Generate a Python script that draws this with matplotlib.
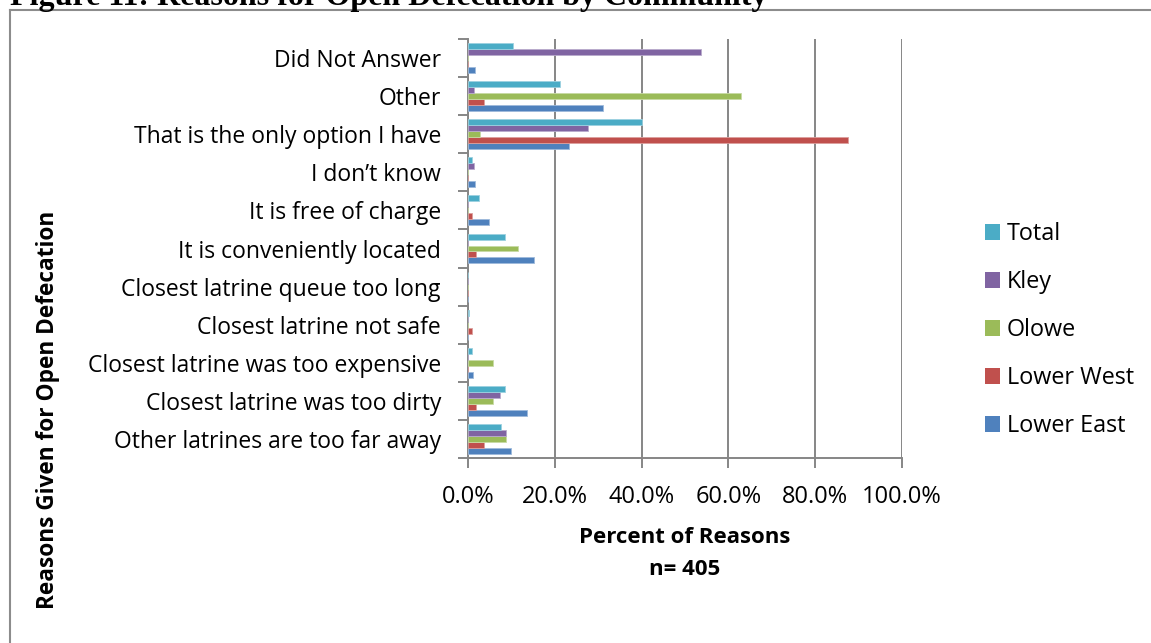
import matplotlib
matplotlib.use("Agg")
import matplotlib.pyplot as plt
import numpy as np
from matplotlib.lines import Line2D
from matplotlib.patches import Patch
from matplotlib.colors import to_rgb

# Reasons, listed bottom to top as they appear on the axis
reasons = [
    "Other latrines are too far away",
    "Closest latrine was too dirty",
    "Closest latrine was too expensive",
    "Closest latrine not safe",
    "Closest latrine queue too long",
    "It is conveniently located",
    "It is free of charge",
    "I don\u2019t know",
    "That is the only option I have",
    "Other",
    "Did Not Answer",
]

# Percent of reasons given, per community
lower_east = [9.8, 13.5, 1.1, 0.0, 0.0, 15.1, 4.8, 1.6, 23.2, 31.2, 1.6]
lower_west = [3.7, 1.8, 0.0, 0.9, 0.0, 1.8, 0.9, 0.0, 87.6, 3.7, 0.0]
olowe = [8.7, 5.8, 5.8, 0.0, 0.0, 11.5, 0.0, 0.0, 2.8, 62.9, 0.0]
kley = [8.8, 7.3, 0.0, 0.0, 0.0, 0.0, 0.0, 1.45, 27.7, 1.45, 53.7]
total = [7.7, 8.5, 1.0, 0.25, 0.0, 8.5, 2.5, 1.0, 40.1, 21.2, 10.3]

series_names = ["Lower East", "Lower West", "Olowe", "Kley", "Total"]
series_values = [lower_east, lower_west, olowe, kley, total]
series_colors = ["#4F81BD", "#C0504D", "#9BBB59", "#8064A2", "#4BACC6"]

x_ticks = [0, 20, 40, 60, 80, 100]

FONT = "Open Sans"
GRID = "#868686"
FS = 16.5

W, H = 1151, 643
fig = plt.figure(figsize=(W / 100, H / 100), dpi=100)
fig.patch.set_facecolor("white")

# plot area in pixel terms
left, right, top, bottom = 468, 902, 39, 458
ax = fig.add_axes([left / W, 1 - bottom / H, (right - left) / W, (bottom - top) / H])

def lighten(c, f=0.45):
    r, g, b = to_rgb(c)
    return (r + (1 - r) * f, g + (1 - g) * f, b + (1 - b) * f)

y = np.arange(len(reasons))
h = 0.1575
for i, (vals, col) in enumerate(zip(series_values, series_colors)):
    ax.barh(y + (i - 2) * h, vals, height=h, color=col,
            edgecolor=lighten(col), linewidth=0.6, zorder=3)

ax.set_xlim(0, 100)
ax.set_ylim(-0.5, len(reasons) - 0.5)

ax.set_xticks(x_ticks)
ax.set_xticklabels([f"{t:.1f}%" for t in x_ticks], fontsize=FS + 0.5, family=FONT)
ax.tick_params(axis="x", direction="out", length=7, width=1.4, color=GRID, pad=12.5)

ax.set_yticks(y)
ax.set_yticklabels(reasons, fontsize=FS, family=FONT)
ax.tick_params(axis="y", which="major", length=0, pad=19.5)
ax.set_yticks(np.arange(-0.5, len(reasons), 1.0), minor=True)
ax.tick_params(axis="y", which="minor", direction="out", length=7, width=1.4, color=GRID)

ax.xaxis.grid(True, color=GRID, linewidth=1.4, zorder=0)
ax.set_axisbelow(True)
for s in ["top", "right"]:
    ax.spines[s].set_visible(False)
for s in ["left", "bottom"]:
    ax.spines[s].set_color(GRID)
    ax.spines[s].set_linewidth(1.4)

# axis titles
fig.text(685 / W, 1 - 543 / H, "Percent of Reasons", family=FONT, weight="bold",
         fontsize=16, ha="center", va="baseline")
fig.text(685 / W, 1 - 575 / H, "n= 405", family=FONT, weight="bold",
         fontsize=16, ha="center", va="baseline")
fig.text(48 / W, 1 - 410 / H, "Reasons Given for Open Defecation", family=FONT,
         weight="bold", fontsize=16.3, rotation=90, ha="center", va="center")

# legend, Total first
handles = [Patch(facecolor=c) for c in series_colors[::-1]]
fig.legend(handles, series_names[::-1], loc="upper left",
           bbox_to_anchor=(985 / W, 1 - 222 / H), frameon=False,
           borderpad=0, borderaxespad=0, handlelength=0.64, handleheight=0.64,
           handletextpad=0.3, labelspacing=1.03,
           prop={"family": FONT, "size": FS + 0.3})

# figure caption and frame
fig.text(10 / W, 1 - 4.5 / H, "Figure 11: Reasons for Open Defecation by Community",
         family="Liberation Serif", weight="bold", fontsize=23,
         ha="left", va="baseline")
fig.add_artist(Line2D([10 / W, 10 / W], [0, 1 - 9.5 / H], color="#8c8c8c", lw=1.5))
fig.add_artist(Line2D([10 / W, 1], [1 - 9.5 / H, 1 - 9.5 / H], color="#8c8c8c", lw=1.5))

fig.savefig("out.png", dpi=100)
